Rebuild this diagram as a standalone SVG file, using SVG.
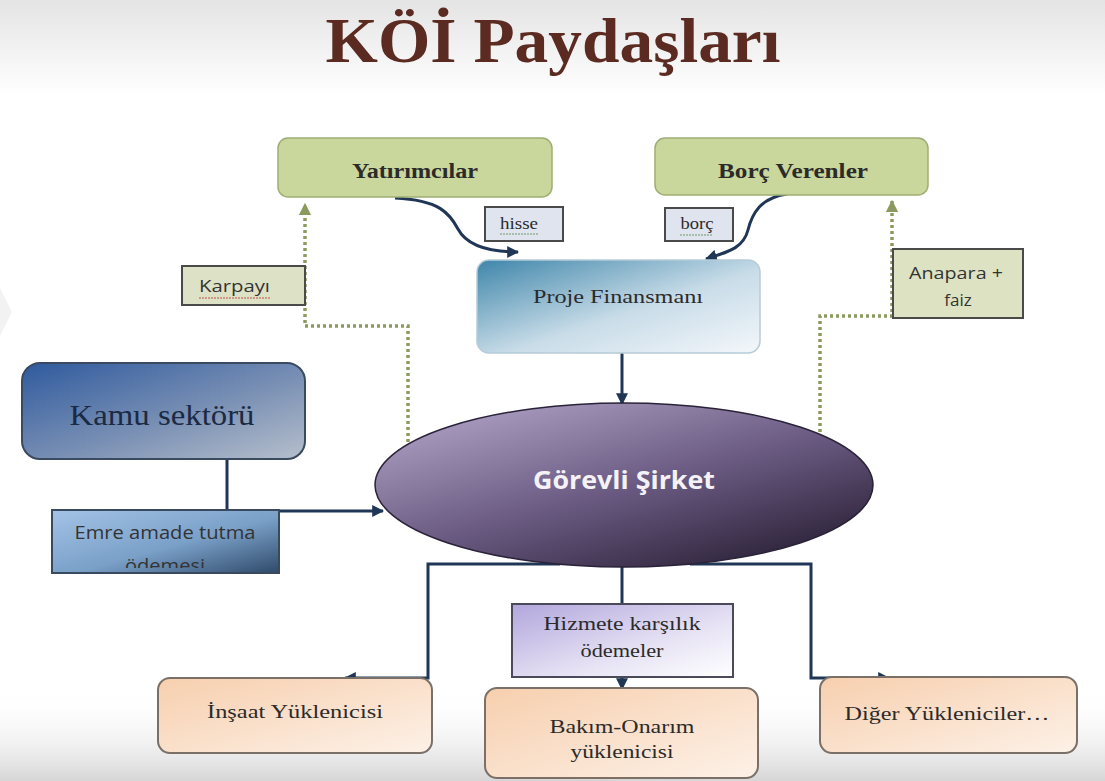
<svg xmlns="http://www.w3.org/2000/svg" width="1105" height="781" viewBox="0 0 1105 781">
<style>
.serif{fill:#2b2b2b}
.sans{fill:#333333}
.green{fill:#c9d69c;stroke:#9fae74;stroke-width:1.5}
.lbl{stroke:#4a4a4a;stroke-width:2}
.flow{fill:none;stroke:#1f3656;stroke-width:3}
.dot{fill:none;stroke:#8c9a60;stroke-width:3.5;stroke-dasharray:3 3}
.peach{fill:url(#gPeach);stroke:#7a7068;stroke-width:2}
</style>
<defs>
<linearGradient id="gTop" x1="0" y1="0" x2="0" y2="1">
<stop offset="0" stop-color="#e4e4e4"/><stop offset="1" stop-color="#ffffff"/>
</linearGradient>
<linearGradient id="gBot" x1="0" y1="0" x2="0" y2="1">
<stop offset="0" stop-color="#ffffff" stop-opacity="0"/><stop offset="1" stop-color="#d6d6d6"/>
</linearGradient>
<linearGradient id="gProje" x1="0" y1="0" x2="1" y2="1">
<stop offset="0" stop-color="#3f86aa"/><stop offset="0.55" stop-color="#c8dce8"/><stop offset="1" stop-color="#f4f7fb"/>
</linearGradient>
<linearGradient id="gEll" x1="0.15" y1="0.1" x2="0.85" y2="0.95">
<stop offset="0" stop-color="#a799bd"/><stop offset="0.5" stop-color="#6a5a82"/><stop offset="1" stop-color="#2c2238"/>
</linearGradient>
<linearGradient id="gKamu" x1="0" y1="0" x2="1" y2="1">
<stop offset="0" stop-color="#2f5a9e"/><stop offset="0.6" stop-color="#7f94b6"/><stop offset="1" stop-color="#b6bfcc"/>
</linearGradient>
<linearGradient id="gEmre" x1="0" y1="0" x2="1" y2="1">
<stop offset="0" stop-color="#a4c3e6"/><stop offset="0.55" stop-color="#7aa0c8"/><stop offset="1" stop-color="#2f4a6a"/>
</linearGradient>
<linearGradient id="gHiz" x1="0" y1="0" x2="1" y2="1">
<stop offset="0" stop-color="#b2a6dc"/><stop offset="0.6" stop-color="#e6e2f4"/><stop offset="1" stop-color="#ffffff"/>
</linearGradient>
<linearGradient id="gPeach" x1="0" y1="0" x2="1" y2="1">
<stop offset="0" stop-color="#f7cfae"/><stop offset="1" stop-color="#fdf1e7"/>
</linearGradient>
<marker id="ah" viewBox="0 0 10 10" refX="9" refY="5" markerWidth="4" markerHeight="4" orient="auto-start-reverse">
<path d="M0,0 L10,5 L0,10 z" fill="#1f3656"/>
</marker>
<marker id="ahg" viewBox="0 0 10 10" refX="9" refY="5" markerWidth="3.5" markerHeight="3.5" orient="auto">
<path d="M0,0 L10,5 L0,10 z" fill="#8c9a60"/>
</marker>
<clipPath id="clipEmre"><rect x="52" y="510" width="227" height="58"/></clipPath>
</defs>

<rect x="0" y="0" width="1105" height="781" fill="#ffffff"/>
<rect x="0" y="0" width="1105" height="95" fill="url(#gTop)"/>
<rect x="0" y="690" width="1105" height="91" fill="url(#gBot)"/>
<polygon points="0,288 12,312 0,336" fill="#f2f2f2"/>

<text x="553" y="62" text-anchor="middle" font-family="Liberation Serif, DejaVu Serif, serif" font-weight="bold" font-size="64" fill="#5b2b22" textLength="455" lengthAdjust="spacingAndGlyphs">KÖİ Paydaşları</text>

<g id="connectors">
<path class="dot" d="M408,442 V326 H305 V204" marker-end="url(#ahg)"/>
<path class="dot" d="M820,432 V316 H892 V201" marker-end="url(#ahg)"/>
<path class="flow" d="M395,198 C440,200 450,214 458,229 C467,246 490,252 518,252" marker-end="url(#ah)"/>
<path class="flow" d="M787,194 C760,198 752,214 748,230 C743,249 727,252 706,259" marker-end="url(#ah)"/>
<path class="flow" d="M622,353 V404" marker-end="url(#ah)"/>
<path class="flow" d="M227,459 V511"/>
<path class="flow" d="M279,511 H383" marker-end="url(#ah)"/>
<path class="flow" d="M560,564 H428 V678 H345" marker-end="url(#ah)"/>
<path class="flow" d="M622,560 V605"/>
<path class="flow" d="M622,677 V689" marker-end="url(#ah)"/>
<path class="flow" d="M690,564 H811 V678 H889" marker-end="url(#ah)"/>
</g>

<g id="yatirimcilar">
<rect class="green" x="278" y="138" width="274" height="59" rx="10"/>
<text class="serif" font-family="Liberation Serif, DejaVu Serif, serif" x="415" y="178" text-anchor="middle" font-weight="bold" font-size="20" textLength="126" lengthAdjust="spacingAndGlyphs">Yatırımcılar</text>
</g>
<g id="borc-verenler">
<rect class="green" x="655" y="138" width="273" height="57" rx="10"/>
<text class="serif" font-family="Liberation Serif, DejaVu Serif, serif" x="793" y="178" text-anchor="middle" font-weight="bold" font-size="20" textLength="150" lengthAdjust="spacingAndGlyphs">Borç Verenler</text>
</g>
<g id="hisse">
<rect class="lbl" x="485" y="207" width="78" height="34" fill="#dfe4ef"/>
<text class="serif" font-family="Liberation Serif, DejaVu Serif, serif" x="519" y="229" text-anchor="middle" font-size="16" textLength="38" lengthAdjust="spacingAndGlyphs">hisse</text>
<path d="M500,234 h38" stroke="#6f9a6a" stroke-width="1.2" stroke-dasharray="2 1"/>
</g>
<g id="borc">
<rect class="lbl" x="665" y="208" width="68" height="33" fill="#dfe4ef"/>
<text class="serif" font-family="Liberation Serif, DejaVu Serif, serif" x="697" y="229" text-anchor="middle" font-size="16" textLength="33" lengthAdjust="spacingAndGlyphs">borç</text>
<path d="M680,235 h33" stroke="#6f9a6a" stroke-width="1.2" stroke-dasharray="2 1"/>
</g>
<g id="karpayi">
<rect class="lbl" x="182" y="266" width="123" height="39" fill="#dde1c5"/>
<text class="sans" font-family="Open Sans, Liberation Sans, sans-serif" x="199" y="292" font-size="17" textLength="71" lengthAdjust="spacingAndGlyphs">Karpayı</text>
<path d="M199,298 h71" stroke="#c0504d" stroke-width="1.2" stroke-dasharray="2 1"/>
</g>
<g id="anapara">
<rect class="lbl" x="893" y="249" width="130" height="69" fill="#dde3c2"/>
<text class="sans" font-family="Open Sans, Liberation Sans, sans-serif" x="956" y="279" text-anchor="middle" font-size="17" textLength="94" lengthAdjust="spacingAndGlyphs">Anapara +</text>
<text class="sans" font-family="Open Sans, Liberation Sans, sans-serif" x="958" y="306" text-anchor="middle" font-size="17">faiz</text>
</g>
<g id="proje-finansmani">
<rect x="477" y="260" width="283" height="93" rx="12" fill="url(#gProje)" stroke="#b5cbd8" stroke-width="1.5"/>
<text class="serif" font-family="Liberation Serif, DejaVu Serif, serif" x="618" y="303" text-anchor="middle" font-size="19" textLength="170" lengthAdjust="spacingAndGlyphs">Proje Finansmanı</text>
</g>
<g id="gorevli-sirket">
<ellipse cx="624" cy="485" rx="249" ry="82" fill="url(#gEll)" stroke="#2a2238" stroke-width="1.5"/>
<text x="624" y="489" text-anchor="middle" font-family="Open Sans, Liberation Sans, sans-serif" font-weight="bold" font-size="25" fill="#f4f2f6" textLength="182" lengthAdjust="spacingAndGlyphs">Görevli Şirket</text>
</g>
<g id="kamu-sektoru">
<rect x="22" y="363" width="283" height="96" rx="18" fill="url(#gKamu)" stroke="#3a4a60" stroke-width="2"/>
<text x="162" y="425" text-anchor="middle" font-family="Liberation Serif, DejaVu Serif, serif" font-size="29" fill="#1a2a44" textLength="185" lengthAdjust="spacingAndGlyphs">Kamu sektörü</text>
</g>
<g id="emre-amade">
<rect x="52" y="510" width="227" height="63" fill="url(#gEmre)" stroke="#3a4a5e" stroke-width="2"/>
<g clip-path="url(#clipEmre)">
<text class="sans" font-family="Open Sans, Liberation Sans, sans-serif" x="165" y="539" text-anchor="middle" font-size="18" fill="#2a3040" textLength="181" lengthAdjust="spacingAndGlyphs">Emre amade tutma</text>
<text class="sans" font-family="Open Sans, Liberation Sans, sans-serif" x="165" y="572" text-anchor="middle" font-size="18" fill="#2a3040" textLength="80" lengthAdjust="spacingAndGlyphs">ödemesi</text>
</g>
</g>
<g id="hizmete">
<rect x="512" y="604" width="221" height="73" fill="url(#gHiz)" stroke="#4a4a5a" stroke-width="2"/>
<text class="serif" font-family="Liberation Serif, DejaVu Serif, serif" x="622" y="630" text-anchor="middle" font-size="19" textLength="157" lengthAdjust="spacingAndGlyphs">Hizmete karşılık</text>
<text class="serif" font-family="Liberation Serif, DejaVu Serif, serif" x="622" y="657" text-anchor="middle" font-size="19" textLength="83" lengthAdjust="spacingAndGlyphs">ödemeler</text>
</g>
<g id="insaat">
<rect class="peach" x="158" y="678" width="274" height="75" rx="12"/>
<text class="serif" font-family="Liberation Serif, DejaVu Serif, serif" x="295" y="718" text-anchor="middle" font-size="19" textLength="176" lengthAdjust="spacingAndGlyphs">İnşaat Yüklenicisi</text>
</g>
<g id="bakim-onarim">
<rect class="peach" x="485" y="688" width="273" height="90" rx="12"/>
<text class="serif" font-family="Liberation Serif, DejaVu Serif, serif" x="622" y="733" text-anchor="middle" font-size="19" textLength="145" lengthAdjust="spacingAndGlyphs">Bakım-Onarım</text>
<text class="serif" font-family="Liberation Serif, DejaVu Serif, serif" x="622" y="758" text-anchor="middle" font-size="19" textLength="103" lengthAdjust="spacingAndGlyphs">yüklenicisi</text>
</g>
<g id="diger">
<rect class="peach" x="820" y="677" width="257" height="76" rx="12"/>
<text class="serif" font-family="Liberation Serif, DejaVu Serif, serif" x="947" y="720" text-anchor="middle" font-size="19" textLength="205" lengthAdjust="spacingAndGlyphs">Diğer Yükleniciler…</text>
</g>
</svg>
